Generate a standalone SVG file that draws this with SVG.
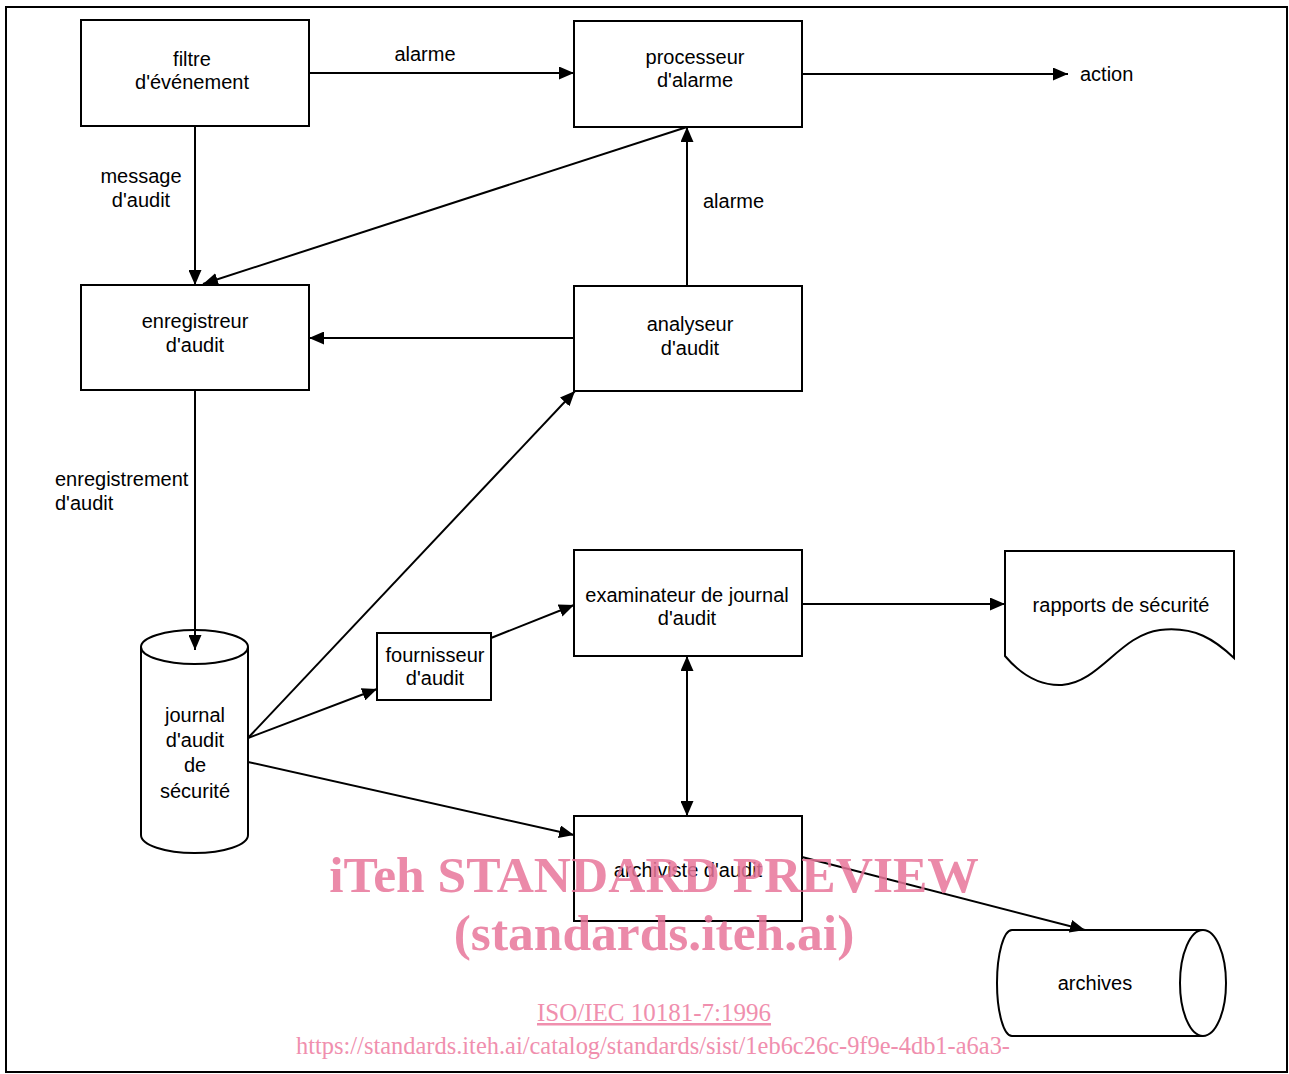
<svg xmlns="http://www.w3.org/2000/svg" width="1289" height="1074" viewBox="0 0 1289 1074">
<style>
.box{fill:#fff;stroke:#000;stroke-width:2}
.shape{fill:#fff;stroke:#000;stroke-width:2}
.ln{fill:none;stroke:#000;stroke-width:2}
.t{font-family:"Liberation Sans",Arial,sans-serif;font-size:20px;fill:#000;text-anchor:middle}
.ts{font-family:"Liberation Sans",Arial,sans-serif;font-size:20px;fill:#000}
.wm{font-family:"Liberation Serif","Times New Roman",serif;font-weight:bold;font-size:51.5px;fill:#e8769a;fill-opacity:0.85;text-anchor:middle}
.wl{font-family:"Liberation Serif","Times New Roman",serif;font-size:25px;fill:#f08fae;text-anchor:middle}
</style>
<defs>
<marker id="ah" viewBox="0 0 15 13" refX="15" refY="6.5" markerWidth="15" markerHeight="13" markerUnits="userSpaceOnUse" orient="auto-start-reverse">
<path d="M0,0 L15,6.5 L0,13 Z" fill="#000"/>
</marker>
</defs>
<rect x="0" y="0" width="1289" height="1074" fill="#fff"/>
<rect x="6" y="7" width="1281" height="1065" fill="none" stroke="#000" stroke-width="2"/>

<g id="filtre">
<rect class="box" x="81" y="20" width="228" height="106"/>
<text class="t" x="192" y="66">filtre</text>
<text class="t" x="192" y="89">d'événement</text>
</g>
<g id="processeur">
<rect class="box" x="574" y="21" width="228" height="106"/>
<text class="t" x="695" y="64">processeur</text>
<text class="t" x="695" y="87">d'alarme</text>
</g>
<g id="enregistreur">
<rect class="box" x="81" y="285" width="228" height="105"/>
<text class="t" x="195" y="328">enregistreur</text>
<text class="t" x="195" y="352">d'audit</text>
</g>
<g id="analyseur">
<rect class="box" x="574" y="286" width="228" height="105"/>
<text class="t" x="690" y="331">analyseur</text>
<text class="t" x="690" y="355">d'audit</text>
</g>
<g id="examinateur">
<rect class="box" x="574" y="550" width="228" height="106"/>
<text class="t" x="687" y="602">examinateur de journal</text>
<text class="t" x="687" y="625">d'audit</text>
</g>
<g id="fournisseur">
<rect class="box" x="377" y="633" width="114" height="67"/>
<text class="t" x="435" y="662">fournisseur</text>
<text class="t" x="435" y="685">d'audit</text>
</g>
<g id="archiviste">
<rect class="box" x="574" y="816" width="228" height="105"/>
<text class="t" x="688" y="877">archiviste d'audit</text>
</g>
<g id="rapports">
<path class="shape" d="M1005,551 H1234 V658 C1215,640 1195,626 1160,630 C1120,635 1100,682 1062,685 C1040,686 1022,676 1005,656 Z"/>
<text class="t" x="1121" y="612">rapports de sécurité</text>
</g>
<g id="journal">
<path class="shape" d="M141,647 V835 A53.5,18 0 0 0 248,835 V647"/>
<ellipse class="shape" cx="194.5" cy="647" rx="53.5" ry="17"/>
<text class="t" x="195" y="722">journal</text>
<text class="t" x="195" y="747">d'audit</text>
<text class="t" x="195" y="772">de</text>
<text class="t" x="195" y="798">sécurité</text>
</g>
<g id="archives">
<path class="shape" d="M1203,930 H1012 A15,53 0 0 0 1012,1036 H1203"/>
<ellipse class="shape" cx="1203" cy="983" rx="23" ry="53"/>
<text class="t" x="1095" y="990">archives</text>
</g>

<g id="connectors">
<line class="ln" x1="309" y1="73" x2="574" y2="73" marker-end="url(#ah)"/>
<line class="ln" x1="802" y1="74" x2="1068" y2="74" marker-end="url(#ah)"/>
<line class="ln" x1="195" y1="126" x2="195" y2="285" marker-end="url(#ah)"/>
<line class="ln" x1="687" y1="127" x2="203" y2="284" marker-end="url(#ah)"/>
<line class="ln" x1="687" y1="286" x2="687" y2="127" marker-end="url(#ah)"/>
<line class="ln" x1="574" y1="338" x2="309" y2="338" marker-end="url(#ah)"/>
<line class="ln" x1="195" y1="390" x2="195" y2="650" marker-end="url(#ah)"/>
<line class="ln" x1="248" y1="738" x2="575" y2="391" marker-end="url(#ah)"/>
<line class="ln" x1="248" y1="738" x2="377" y2="689" marker-end="url(#ah)"/>
<line class="ln" x1="491" y1="638" x2="574" y2="605" marker-end="url(#ah)"/>
<line class="ln" x1="802" y1="604" x2="1005" y2="604" marker-end="url(#ah)"/>
<line class="ln" x1="687" y1="656" x2="687" y2="816" marker-start="url(#ah)" marker-end="url(#ah)"/>
<line class="ln" x1="248" y1="762" x2="574" y2="835" marker-end="url(#ah)"/>
<line class="ln" x1="802" y1="857" x2="1085" y2="930" marker-end="url(#ah)"/>
<text class="t" x="425" y="61">alarme</text>
<text class="ts" x="1080" y="81">action</text>
<text class="t" x="141" y="183">message</text>
<text class="t" x="141" y="207">d'audit</text>
<text class="ts" x="703" y="208">alarme</text>
<text class="ts" x="55" y="486">enregistrement</text>
<text class="ts" x="55" y="510">d'audit</text>
</g>

<g id="watermark">
<text class="wm" x="654" y="892">iTeh STANDARD PREVIEW</text>
<text class="wm" x="654" y="950">(standards.iteh.ai)</text>
<text class="wl" x="654" y="1021" text-decoration="underline">ISO/IEC 10181-7:1996</text>
<text class="wl" x="653" y="1054" textLength="714" lengthAdjust="spacingAndGlyphs">https://standards.iteh.ai/catalog/standards/sist/1eb6c26c-9f9e-4db1-a6a3-</text>
</g>
</svg>
